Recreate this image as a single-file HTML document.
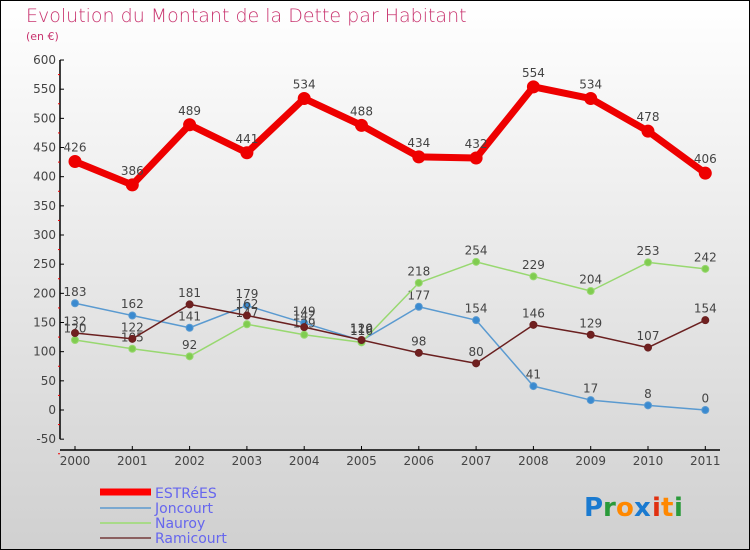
<!DOCTYPE html>
<html><head><meta charset="utf-8"><style>
body{margin:0}
#c{width:750px;height:550px;position:relative;overflow:hidden}
svg text{font-family:"DejaVu Sans","Liberation Sans",sans-serif}
</style></head><body>
<div id="c">
<svg id="s" width="750" height="550" xmlns="http://www.w3.org/2000/svg">
<defs><linearGradient id="bg" x1="0" y1="0" x2="0" y2="1"><stop offset="0" stop-color="#ffffff"/><stop offset="1" stop-color="#d0d0d0"/></linearGradient></defs>
<rect x="0.5" y="0.5" width="749" height="549" fill="url(#bg)" stroke="#000"/>
<text x="26" y="22" font-size="19" fill="#c8336e" style="font-family:'DejaVu Sans',sans-serif;font-weight:200">Evolution du Montant de la Dette par Habitant</text>
<text x="26" y="40" font-size="11" fill="#c8336e">(en €)</text>
<g id="axes"></g><g id="series"></g>
<g>
<line x1="100" y1="492" x2="151" y2="492" stroke="#f00" stroke-width="7"/>
<text x="155" y="498" font-size="14" fill="#6666ee">ESTRéES</text>
<line x1="100" y1="508" x2="151" y2="508" stroke="#7aa8d0" stroke-width="2"/>
<text x="155" y="513" font-size="14" fill="#6666ee">Joncourt</text>
<line x1="100" y1="523" x2="151" y2="523" stroke="#a8da88" stroke-width="2"/>
<text x="155" y="528" font-size="14" fill="#6666ee">Nauroy</text>
<line x1="100" y1="538" x2="151" y2="538" stroke="#8b6060" stroke-width="2"/>
<text x="155" y="543" font-size="14" fill="#6666ee">Ramicourt</text>
</g>
<g font-size="26" font-weight="bold">
<text x="584" y="516" fill="#1a7ad0">P</text><text x="603" y="516" fill="#2a9a3a">r</text><text x="616" y="516" fill="#ff8800">o</text><text x="634" y="516" fill="#1a7ad0">x</text><text x="652" y="516" fill="#e03010">i</text><text x="661" y="516" fill="#ff8800">t</text><text x="674" y="516" fill="#2a9a3a">i</text>
</g>
</svg></div>
<script>
const years=["2000","2001","2002","2003","2004","2005","2006","2007","2008","2009","2010","2011"];
const estrees=[426,386,489,441,534,488,434,432,554,534,478,406];
const joncourt=[183,162,141,179,149,119,177,154,41,17,8,0];
const nauroy=[120,105,92,147,129,116,218,254,229,204,253,242];
const ramicourt=[132,122,181,162,142,120,98,80,146,129,107,154];
const yTicks=[-50,0,50,100,150,200,250,300,350,400,450,500,550,600];
const NS="http://www.w3.org/2000/svg";
function X(i){return 75+i*57.3;}
function Y(v){return 410-v*0.5833;}
function mk(p,tag,at){const e=document.createElementNS(NS,tag);for(const k in at)e.setAttribute(k,at[k]);p.appendChild(e);return e;}
const ax=document.getElementById('axes');
const yl=mk(ax,'line',{x1:60,y1:Y(600),x2:60,y2:Y(-50),stroke:'#000','stroke-width':1.5});


const xl=mk(ax,'line',{x1:60,y1:450,x2:720,y2:450,stroke:'#000','stroke-width':1.5});


yTicks.forEach(v=>{
 mk(ax,'line',{x1:60,y1:Y(v),x2:64,y2:Y(v),stroke:'#000'});
 mk(ax,'line',{x1:58,y1:Y(v-25),x2:60,y2:Y(v-25),stroke:'#e00'});
 const t=mk(ax,'text',{x:56,y:Y(v)+4,'font-size':12,fill:'#444','text-anchor':'end'});
 t.textContent=v;
 
 
});
years.forEach((y,i)=>{
 mk(ax,'line',{x1:X(i),y1:446,x2:X(i),y2:450,stroke:'#000'});
 const t=mk(ax,'text',{x:X(i),y:465,'font-size':12,fill:'#444','text-anchor':'middle'});
 t.textContent=y;
 
 
});
const sg=document.getElementById('series');
function series(name,data,col,dot,w,r){
 const g=mk(sg,'g',{});
 
 
 const pl=mk(g,'polyline',{points:data.map((v,i)=>X(i)+','+Y(v)).join(' '),fill:'none',stroke:col,'stroke-width':w,'stroke-linejoin':'round'});
 
 
 data.forEach((v,i)=>{
  const c=mk(g,'circle',{cx:X(i),cy:Y(v),r:r,fill:dot,stroke:col,'stroke-width':1});
  
  
  const t=mk(g,'text',{x:X(i),y:Y(v)-r-4,'font-size':12,fill:'#444','text-anchor':'middle'});
  t.textContent=v;
  
  
 });
}
series('joncourt',joncourt,'#5a9ad0','#3a8ad0',1.5,3.5);
series('nauroy',nauroy,'#98d870','#80cc50',1.5,3.5);
series('ramicourt',ramicourt,'#6a2020','#702020',1.5,3.5);
series('estrees',estrees,'#ee0000','#ee0000',7,6);
</script>
</body></html>
